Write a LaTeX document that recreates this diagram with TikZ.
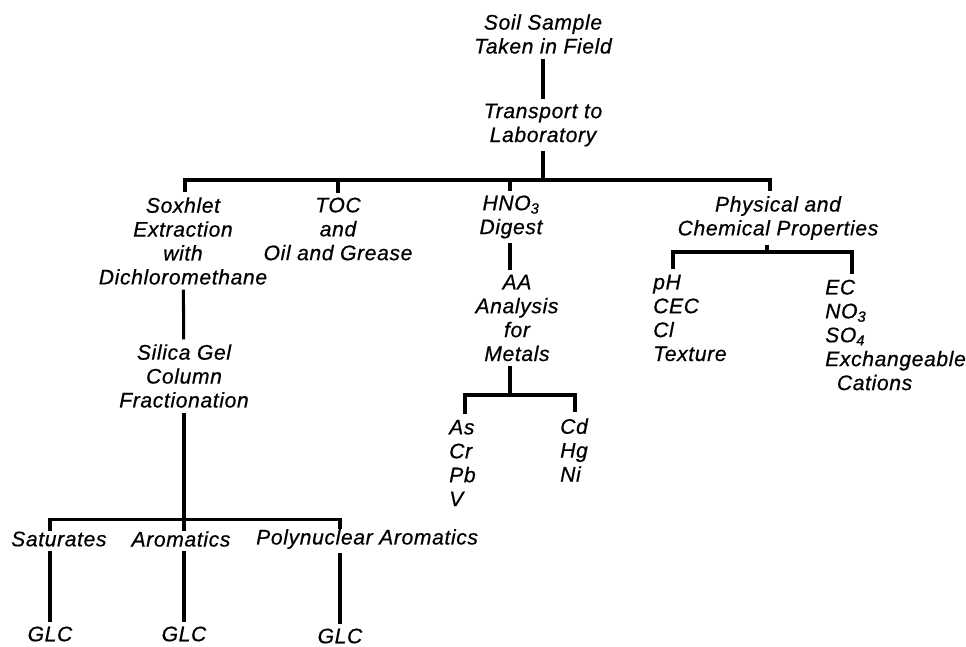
\documentclass[tikz,border=0pt]{standalone}
\usepackage{fontspec}
\setmainfont{Liberation Sans}[LetterSpace=3, ItalicFeatures={FakeBold=0.6}]
\usepackage{tikz}
\usetikzlibrary{calc}

\begin{document}
\begin{tikzpicture}[
    x = 0.03cm, y = -0.03cm,
    t0/.style = {font = \fontsize{18}{20.4}\selectfont\itshape, inner sep = 4pt, align = center},
    t1/.style = {font = \fontsize{18}{20.4}\selectfont\itshape, inner sep = 0pt, align = left, anchor = west},
    d0/.style = {line width = 2.6pt},
]

\useasboundingbox (0,0) rectangle (966,647);

\node[t0] (soil) at (543, 34) {Soil Sample\\Taken in Field};
\node[t0] (trans) at (543, 125) {Transport to\\Laboratory};

\node[t0] (soxh) at (183, 241) {Soxhlet\\Extraction\\with\\Dichloromethane};
\node[t0] (toc) at (338, 229) {TOC\\and\\Oil and Grease};
\node[t0] (hno) at (511, 217) {HNO\textsubscript{3}\\Digest};
\node[t0] (phys) at (778, 218) {Physical and\\Chemical Properties};

\node[t0] (silica) at (184, 376) {Silica Gel\\Column\\Fractionation};
\node[t0] (aa) at (517, 318) {AA\\Analysis\\for\\Metals};

\node[t1] (metL) at (449, 463) {As\\Cr\\Pb\\V};
\node[t1] (metR) at (560, 450) {Cd\\Hg\\Ni};
\node[t1] (propL) at (653, 318) {pH\\CEC\\Cl\\Texture};
\node[t1] (propR) at (825, 335) {EC\\NO\textsubscript{3}\\SO\textsubscript{4}\\Exchangeable\\\hspace*{10pt}Cations};

\node[t0, anchor = west, inner sep = 0pt] (sat) at (11, 539) {Saturates};
\node[t0, inner sep = 0pt] (arom) at (181, 539) {Aromatics};
\node[t0, anchor = west, inner sep = 0pt] (poly) at (256, 539) {Polynuclear Aromatics};

\node[t0] (glcA) at (50, 634) {GLC};
\node[t0] (glcB) at (184, 634) {GLC};
\node[t0] (glcC) at (340, 636) {GLC};

\coordinate (b1) at (543, 180);
\coordinate (b2) at (184, 490);
\coordinate (b3) at (510, 395);
\coordinate (b4) at (767, 252);
\coordinate (b3l) at (465, 395);
\coordinate (b3r) at (575, 395);
\coordinate (b4l) at (673, 252);
\coordinate (b4r) at (852, 252);

\draw[d0] (soil) -- (trans);
\draw[d0] (trans) -- (b1);
\draw[d0] (soxh.north -| 185,0) |- (b1) -| (phys.north -| 770,0);
\draw[d0] (toc.north) -- (toc |- b1);
\draw[d0] (hno.north -| b3) -- (b3 |- b1);

\draw[d0] (soxh) -- (silica);
\draw[d0] (silica) -- (b2);
\draw[d0] (glcA |- sat.north) -- ++(0,-12) -| (glcC |- poly.north);
\draw[d0] (glcB |- arom.north) -- (glcB |- b2);

\draw[d0] (glcA |- sat.south) ++(0,4) -- (glcA.north);
\draw[d0] (glcB |- arom.south) ++(0,4) -- (glcB.north);
\draw[d0] (glcC |- poly.south) ++(0,4) -- (glcC.north);

\draw[d0] (hno.south -| b3) -- (b3 |- aa.north);
\draw[d0] (aa.south -| b3) -- (b3);
\draw[d0] (b3l |- metL.north) ++(0,-6) -- (b3l) -- (b3r) -- ($(b3r |- metR.north)+(0,-6)$);

\draw[d0] (phys.south -| b4) -- (b4);
\draw[d0] (b4l |- propL.north) ++(0,-6) -- (b4l) -- (b4r) -- ($(b4r |- propR.north)+(0,-6)$);

\end{tikzpicture}
\end{document}
